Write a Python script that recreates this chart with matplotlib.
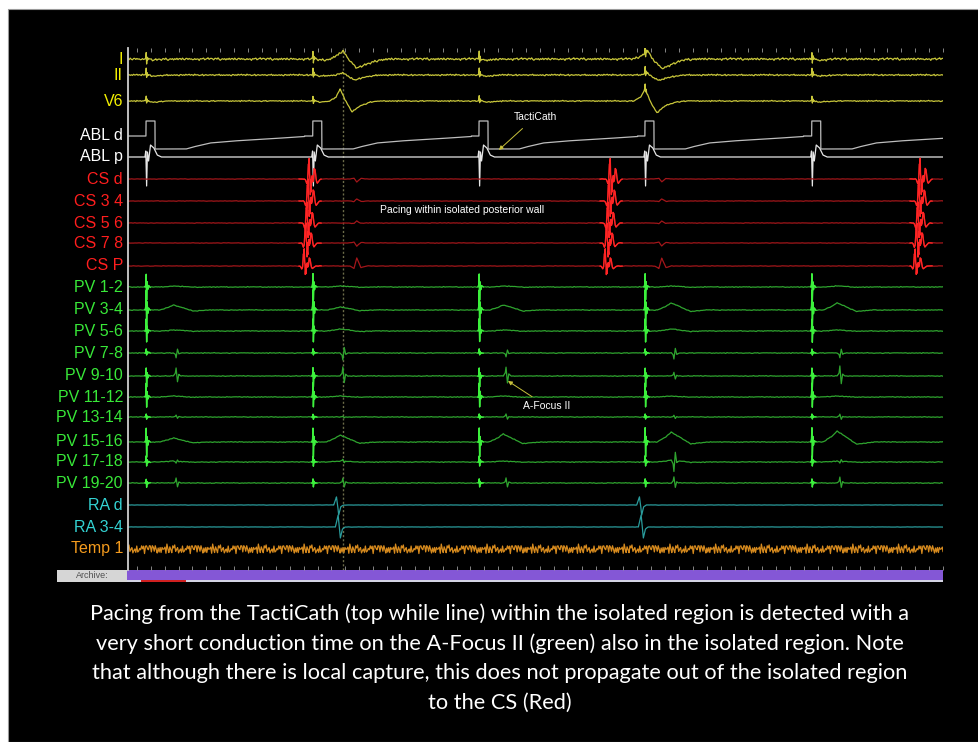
import numpy as np
import matplotlib
matplotlib.use("Agg")
import matplotlib.pyplot as plt
from matplotlib.patches import Rectangle

# ---- channels, top to bottom ----
channels = ["I", "II", "V6", "ABL d", "ABL p", "CS d", "CS 3 4", "CS 5 6", "CS 7 8", "CS P",
            "PV 1-2", "PV 3-4", "PV 5-6", "PV 7-8", "PV 9-10", "PV 11-12", "PV 13-14",
            "PV 15-16", "PV 17-18", "PV 19-20", "RA d", "RA 3-4", "Temp 1"]

# ---- event times in ms ----
pace_times = [33, 633, 1231, 1828, 2428]      # TactiCath stimulus
afocus_times = [141, 741, 1328, 1932, 2529]   # local capture seen on A-Focus II
cs_times = [608, 1691, 2806]                  # CS activation (outside the isolated region)
qrs_times = [731, 1828]
ra_times = [723, 1813]
cursor_time = 741

# ---- ECG (I, II, V6) ----
ecg_pace_up = [7, 7, 5]
ecg_pace_down = [4, 2, 2]
qrs_I_t = [-40, -15, 11, 30, 61, 100, 140, 180]
qrs_I_v = [0, 3, 8, 0, -9, -5, -1, 0]
qrs_II_t = [-20, 10, 50, 90, 140]
qrs_II_v = [0, 2, -5, -2, 0]
qrs_V6_t = [-40, -15, 0, 20, 43, 70, 110, 150]
qrs_V6_v = [0, 4, 12, 0, -11, -5, -1, 0]

# ---- ablation catheter ----
abl_d_t = [-0.5, 0, 32, 32.5, 144, 169, 230, 313, 435, 570]
abl_d_v = [0, 15, 15, -13, -13, -11, -7, -5, -3, -0.5]
abl_p_t = [-4, -1, 2, 5, 9, 16, 28, 40, 55]
abl_p_v = [0, 6, -29, 5, -4, 12, 9, 2, 0]

# ---- CS (d, 3 4, 5 6, 7 8, P) ----
cs_burst_up = [23, 24, 23, 22, 18]
cs_burst_down = [24, 24, 23, 22, 15]
cs_burst_lag = [12, 8, 4, 0, -6]
cs_ff_amp = [-3, 2, 2, -3, 8]

# ---- PV (A-Focus II), one row per bipole ----
pv_pace_up = [13, 20, 12, 4, 8, 14, 3, 14, 6, 4]
pv_pace_down = [13, 18, 11, 2, 11, 10, 2, 15, 4, 4]
pv_local = [[0, 0, 0, 0, 0],
            [0, 0, 0, 0, 0],
            [0, 0, 0, 0, 0],
            [-5, -7, -4, -6, -5],
            [8, 9, 9, 4, 10],
            [0, 0, 0, 0, 0],
            [2, 1, 3, 2, 3],
            [0, 0, 0, 0, 0],
            [-2, 2, 0, -11, -2],
            [5, 5, 5, 6, 6]]
pv_slow = [[1, 1, 1, 1, 1],
           [5, 3, 5, 7, 7],
           [1, 2, 1, 2, 1],
           [0, 0, 0, 0, 0],
           [0, 0, 0, 0, 0],
           [1, 1, 1, 1, 1],
           [0, 0, 0, 0, 0],
           [4, 7, 8, 10, 11],
           [1, 1, 1, 2, 1],
           [0, 0, 0, 0, 0]]

# ---- RA (d, 3-4) ----
ra_up = [8, 12]
ra_down = [10, 11]
ra_lag = [0, 6]

# small baseline jitter values (tiled for the noise texture)
jitter = [0.3, -0.6, 0.9, -0.2, -0.8, 0.5, 0.1, -0.9, 0.7, -0.3, 0.6, -0.5, -0.1, 0.8,
          -0.7, 0.2, 0.4, -1.0, 0.9, -0.4, 0.0, 0.7, -0.6, 0.3, -0.2, 1.0, -0.8, 0.1,
          0.5, -0.3, -0.7, 0.6, 0.2, -0.5, 0.8, -0.1, -0.9, 0.4, 0.3, -0.6, 0.9, -0.8,
          0.2, -0.4, 0.6, -0.2, 0.1]

caption = ["Pacing from the TactiCath (top while line) within the isolated region is detected with a",
           "very short conduction time on the A-Focus II (green) also in the isolated region. Note",
           "that although there is local capture, this does not propagate out of the isolated region",
           "to the CS (Red)"]

# ---- layout / style ----
base_y = [59, 75, 101, 136, 157, 179, 201, 223, 243, 266, 287, 310, 331, 353, 376, 397, 417,
          442, 462, 483, 505, 527, 549]
T0, T1 = -32, 2900

# waveform morphologies (fractions of amplitude)
spike_t = [-3, -1, 0.5, 2, 4, 6, 9, 14]
spike_f = [0, 0.2, 1, -1, 0.4, -0.2, 0.1, 0]
local_t = [-10, -3, 0, 5, 10, 18]
local_f = [0, 0.3, 1, -0.75, 0.2, 0]
slow_t = [-60, -30, -10, 20, 60, 120]
slow_f = [0, 0.5, 1, 0.5, -0.2, 0]
burst_t = [-14, -6, -2, 0, 4, 8, 12, 18, 26, 40]
burst_f = [0, -0.15, 0.4, 1, -1, 0.5, -0.3, 0.35, -0.1, 0]
ff_t = [-25, -10, 0, 15, 35]
ff_f = [0, -0.3, 1, -0.2, 0]
ra_t = [-15, -5, 3, 10, 20]
ra_f = [0, 1, -1, -0.2, 0]

t = np.arange(T0, T1 + 0.5, 0.5)


def wave(t0, st, sf, up, down=None):
    f = np.interp(t, t0 + np.array(st, float), sf, left=0, right=0)
    down = up if down is None else down
    return np.where(f > 0, f * up, f * down)


def noise(amp, step, shift):
    tc = np.arange(T0, T1 + step, step)
    k = np.arange(len(tc))
    j = np.array(jitter)
    n = 0.7 * j[(k + shift) % len(j)] + 0.45 * j[(3 * k + 2 * shift) % len(j)]
    return amp * np.interp(t, tc, n)


fig = plt.figure(figsize=(9.79, 7.42), dpi=100)
fig.patch.set_facecolor("white")
bg = fig.add_axes([0, 0, 1, 1])
bg.set_xlim(0, 979)
bg.set_ylim(742, 0)
bg.axis("off")
bg.add_patch(Rectangle((8, 9), 971, 733, fc="black", ec="#9a9a9a", lw=0.8))

ax = fig.add_axes([128 / 979, 1 - 570 / 742, 815 / 979, (570 - 48) / 742])
ax.set_facecolor("black")
ax.set_xlim(T0, T1)
ax.set_ylim(570, 48)
for s in ["top", "right", "bottom"]:
    ax.spines[s].set_visible(False)
ax.spines["left"].set_color("#cfcfcf")
ax.spines["left"].set_linewidth(1.3)
ax.set_xticks(np.arange(0, T1 + 1, 50))
ax.set_yticks([])
ax.tick_params(axis="x", direction="in", top=True, bottom=True, length=3, width=0.6,
               color="#9a9a9a", labelbottom=False, labeltop=False)

traces = {}

# ECG
ecg_qrs = [(qrs_I_t, qrs_I_v), (qrs_II_t, qrs_II_v), (qrs_V6_t, qrs_V6_v)]
ecg_noise = [1.3, 0.8, 0.6]
for i in range(3):
    v = noise(ecg_noise[i], 4, 5 * i)
    for p in pace_times:
        v += wave(p, spike_t, spike_f, ecg_pace_up[i], ecg_pace_down[i])
        v += wave(p, [8, 25, 60, 90], [0, -1.2, -0.4, 0], 1)
    for q in qrs_times:
        v += wave(q, ecg_qrs[i][0], ecg_qrs[i][1], 1)
    traces[channels[i]] = v

# ABL
v = np.zeros_like(t)
for p in pace_times:
    v += wave(p, abl_d_t, abl_d_v, 1)
traces["ABL d"] = v
v = np.zeros_like(t)
for p in pace_times:
    v += wave(p, abl_p_t, abl_p_v, 1)
traces["ABL p"] = v

# CS
for i in range(5):
    v = noise(0.3, 6, 7 * i)
    for c in cs_times:
        v += wave(c + cs_burst_lag[i], burst_t, burst_f, cs_burst_up[i], cs_burst_down[i])
        v += wave(c + cs_burst_lag[i] + 3, burst_t, burst_f, 0.6 * cs_burst_up[i], 0.7 * cs_burst_down[i])
        v += wave(c + cs_burst_lag[i] - 3, burst_t, burst_f, 0.5 * cs_burst_up[i], 0.5 * cs_burst_down[i])
    for q in qrs_times:
        v += wave(q + 60, ff_t, ff_f, cs_ff_amp[i])
    traces[channels[5 + i]] = v

# PV
for i in range(10):
    v = noise(0.45, 5, 3 * i + 1)
    for p in pace_times:
        v += wave(p, spike_t, spike_f, pv_pace_up[i], pv_pace_down[i])
    for k, a in enumerate(afocus_times):
        v += wave(a, local_t, local_f, pv_local[i][k])
        v += wave(a, slow_t, slow_f, pv_slow[i][k])
    traces[channels[10 + i]] = v

# RA
for i in range(2):
    v = noise(0.2, 6, 11 * i)
    for r in ra_times:
        v += wave(r + ra_lag[i], ra_t, ra_f, ra_up[i], ra_down[i])
    traces[channels[20 + i]] = v

# Temp 1
traces["Temp 1"] = noise(5.5, 3.5, 9)

trace_col = ["#c8c63a"] * 3 + ["#bdbdbd", "#e6e6e6"] + ["#a3161a"] * 5 + ["#2fa52f"] * 10 + \
            ["#2a9c9c"] * 2 + ["#d68a1e"]
label_col = ["#f2f000"] * 3 + ["#ffffff"] * 2 + ["#ff1e1e"] * 5 + ["#38e838"] * 10 + \
            ["#33d2d2"] * 2 + ["#f39a1d"]

ax.axvline(cursor_time, color="#6b6b48", lw=1.0, ls=(0, (1.5, 1.5)), zorder=1)

for i, name in enumerate(channels):
    y = base_y[i] - traces[name]
    ax.plot(t, y, color=trace_col[i], lw=0.9, zorder=2)
    if name.startswith("CS"):
        m = np.zeros_like(t, bool)
        for c in cs_times:
            m |= (t > c - 25) & (t < c + 55)
        ax.plot(t, np.where(m, y, np.nan), color="#ff2424", lw=1.0, zorder=3)
    if name.startswith("PV"):
        m = np.zeros_like(t, bool)
        for p in pace_times:
            m |= (t > p - 4) & (t < p + 15)
        ax.plot(t, np.where(m, y, np.nan), color="#3cf03c", lw=1.0, zorder=3)
    bg.text(123, base_y[i], name, ha="right", va="center", color=label_col[i],
            fontsize=11.5, family="Liberation Sans")

# annotations
ax.annotate("TactiCath", xy=(1302, 150), xytext=(1355, 117), color="white", fontsize=7.5,
            family="Liberation Sans", ha="left", va="center",
            arrowprops=dict(arrowstyle="-|>", color="#c9c23c", lw=0.7, mutation_scale=6,
                            shrinkA=4, shrinkB=0))
ax.text(874, 210, "Pacing within isolated posterior wall", color="white", fontsize=7.5,
        family="Liberation Sans", ha="left", va="center")
ax.annotate("A-Focus II", xy=(1335, 381), xytext=(1388, 406), color="white", fontsize=7.5,
            family="Liberation Sans", ha="left", va="center",
            arrowprops=dict(arrowstyle="-|>", color="#c9c23c", lw=0.7, mutation_scale=6,
                            shrinkA=2, shrinkB=0))

# archive bar
bg.add_patch(Rectangle((57, 570), 70, 12, fc="#d6d6d6", ec="none"))
bg.text(92, 576, "Archive:", ha="center", va="center", fontsize=6.5, color="#505050",
        family="Liberation Sans")
bg.add_patch(Rectangle((127, 570), 816, 10, fc="#8457d6", ec="none"))
bg.add_patch(Rectangle((127, 580), 816, 2, fc="#d4d4e4", ec="none"))
bg.add_patch(Rectangle((141, 580), 45, 2, fc="#d02020", ec="none"))

# caption, sized so the first line spans the same width as in the slide
cap = [bg.text(500, 614 + 29.7 * k, line, ha="center", va="center", color="white",
               fontsize=14, family="Lato") for k, line in enumerate(caption)]
r = fig.canvas.get_renderer()
w = cap[0].get_window_extent(r).width
for c in cap:
    c.set_fontsize(14 * 820 / w)

fig.savefig("out.png", dpi=100, facecolor=fig.get_facecolor())
